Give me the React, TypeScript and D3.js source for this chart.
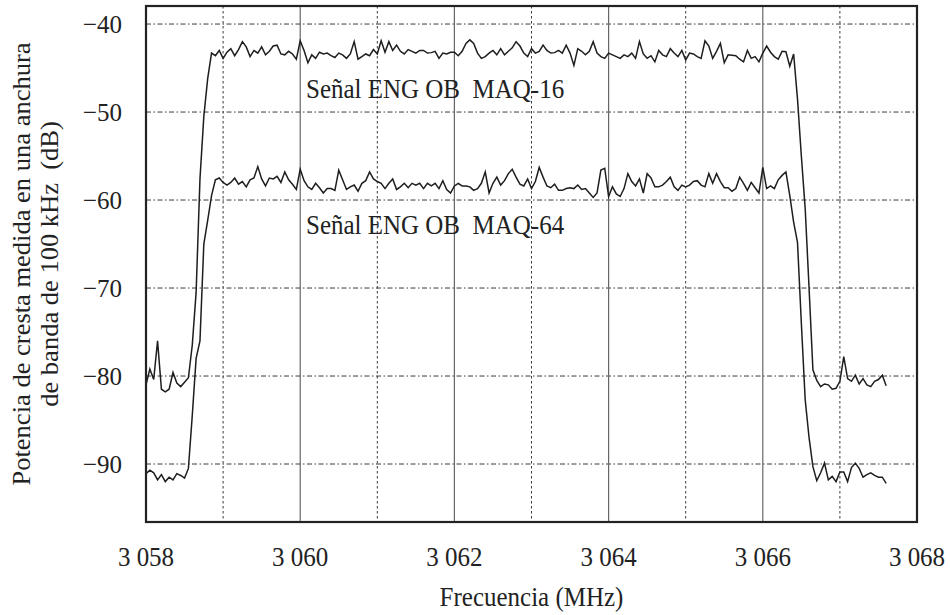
import React from "react";
import * as d3 from "d3";

// Frequency sampling of the traces (MHz)
const freqStart = 3058.0;
const freqStep = 0.05;

// Señal ENG OB MAQ-16 (dB)
const maq16: number[] = [
  -81.0, -79.2, -80.4, -76.0, -81.5, -81.8, -81.5, -79.6, -80.8, -81.2,
  -80.7, -80.2, -76.5, -70.5, -57.6, -50.5, -46.2, -43.3, -43.6, -43.0,
  -43.9, -43.2, -42.8, -43.6, -42.9, -42.0, -42.6, -43.7, -43.0, -43.3,
  -42.6, -43.5, -43.1, -42.5, -42.4, -43.4, -43.5, -43.1, -43.4, -44.0,
  -41.9, -43.0, -44.4, -43.5, -43.9, -43.2, -43.4, -43.3, -43.6, -43.8,
  -43.3, -43.5, -43.9, -43.4, -42.0, -44.0, -43.7, -43.4, -43.6, -42.9,
  -43.4, -41.9, -43.2, -42.0, -43.0, -42.4, -43.1, -43.4, -42.9, -43.1,
  -43.3, -43.0, -43.0, -43.3, -43.25, -43.1, -43.9, -43.3, -43.4, -43.2,
  -43.2, -43.6, -43.1, -42.2, -41.8, -42.2, -43.3, -43.9, -43.7, -43.3,
  -43.0, -43.5, -42.8, -43.5, -43.1, -42.7, -42.0, -42.5, -43.3, -43.7,
  -42.8, -43.3, -43.1, -42.4, -43.0, -43.3, -43.25, -43.0, -43.3, -42.4,
  -43.3, -44.7, -42.8, -43.1, -43.5, -43.1, -42.0, -43.3, -43.7, -43.9,
  -43.3, -43.5, -43.7, -43.9, -43.5, -43.7, -43.3, -43.9, -42.0, -43.4,
  -43.9, -43.6, -44.3, -43.0, -43.5, -43.7, -42.8, -43.3, -43.7, -43.0,
  -44.1, -43.3, -43.4, -43.7, -43.9, -41.9, -42.5, -43.9, -43.1, -42.2,
  -44.4, -43.5, -43.55, -43.6, -44.0, -44.3, -43.0, -43.9, -43.7, -44.3,
  -43.3, -42.5, -43.2, -43.7, -44.0, -43.1, -43.15, -44.8, -43.4, -48.5,
  -55.0, -61.0, -70.0, -79.3, -80.5, -81.2, -80.9, -81.0, -81.5, -81.4,
  -80.6, -77.8, -80.3, -80.6, -79.9, -80.9, -80.3, -81.0, -81.2, -80.6,
  -80.4, -79.9, -81.1,
];

// Señal ENG OB MAQ-64 (dB)
const maq64: number[] = [
  -91.1, -90.7, -91.0, -91.8, -91.2, -92.0, -91.5, -91.8, -91.1, -91.3,
  -91.6, -90.5, -84.5, -78.0, -76.0, -65.0, -62.3, -59.5, -57.7, -57.5,
  -58.0, -58.3, -58.0, -57.5, -58.2, -57.9, -58.5, -57.7, -57.5, -56.2,
  -57.6, -58.4, -57.5, -57.6, -57.3, -58.0, -56.8, -57.7, -58.2, -58.8,
  -56.5, -57.8, -58.5, -58.8, -58.1, -58.6, -59.2, -58.7, -58.7, -58.9,
  -56.6, -57.7, -58.8, -58.5, -58.3, -59.0, -58.1, -57.8, -56.8, -57.6,
  -57.9, -58.1, -58.7, -58.1, -57.6, -58.8, -58.5, -58.1, -58.6, -58.1,
  -58.3, -58.1, -58.7, -58.1, -58.4, -58.1, -58.7, -57.8, -58.8, -59.2,
  -58.4, -58.1, -58.4, -58.4, -58.5, -58.9, -58.7, -58.1, -56.8, -59.2,
  -58.1, -57.4, -58.3, -57.8, -57.0, -56.5, -57.4, -58.2, -58.4, -57.6,
  -58.7, -57.9, -56.3, -57.4, -58.4, -58.6, -58.2, -58.9, -58.9, -58.7,
  -58.6, -58.7, -58.3, -58.8, -58.7, -59.2, -59.7, -59.2, -56.6, -56.4,
  -59.6, -58.5, -59.3, -59.6, -58.7, -57.0, -57.9, -58.4, -57.6, -59.2,
  -57.0, -57.5, -58.5, -58.5, -58.3, -57.9, -57.4, -58.5, -58.9, -58.3,
  -58.5, -58.3, -57.9, -57.8, -58.3, -58.5, -57.0, -58.1, -57.0, -57.9,
  -58.6, -58.6, -59.0, -58.7, -57.4, -58.1, -58.9, -58.0, -58.6, -59.2,
  -56.3, -58.7, -58.4, -58.7, -57.7, -57.2, -56.8, -59.5, -62.5, -64.8,
  -74.0, -82.7, -87.0, -90.3, -91.9, -91.0, -89.9, -91.8, -91.4, -92.0,
  -90.9, -90.9, -92.0, -90.4, -89.9, -90.5, -91.5, -91.2, -91.0, -91.3,
  -91.5, -91.5, -92.2,
];

const xTicks = [3058, 3060, 3062, 3064, 3066, 3068];
const xTickLabels = ["3 058", "3 060", "3 062", "3 064", "3 066", "3 068"];
const xMinorGrid = [3059, 3061, 3063, 3065, 3067];
const xMajorGrid = [3060, 3062, 3064, 3066];
const yTicks = [-40, -50, -60, -70, -80, -90];

const W = 950;
const H = 615;
const left = 146;
const right = 917;
const top = 6;
const bottom = 522;

const FONT = "'Liberation Serif', 'Times New Roman', serif";

const x = d3.scaleLinear().domain([3058, 3068]).range([left, right]);
const y = d3.scaleLinear().domain([-96.59, -37.95]).range([bottom, top]);

const line = d3
  .line<number>()
  .x((_, i) => x(freqStart + i * freqStep))
  .y((d) => y(d));

function T({ x: tx, y: ty, children, anchor = "start", rotate = 0, sx = 1, sy = 1.08, size = 25 }: any) {
  return (
    <text
      transform={`translate(${tx},${ty}) rotate(${rotate}) scale(${sx},${sy})`}
      textAnchor={anchor}
      fontFamily={FONT}
      fontSize={size}
      fill="#222"
      style={{ whiteSpace: "pre" }}
    >
      {children}
    </text>
  );
}

export default function App() {
  return (
    <svg
      width={W}
      height={H}
      viewBox={`0 0 ${W} ${H}`}
      style={{ position: "absolute", left: 0, top: 0, background: "#fff" }}
    >
      <rect x={0} y={0} width={W} height={H} fill="#fff" />
      {yTicks.map((t) => (
        <line
          key={"h" + t}
          x1={left}
          x2={right}
          y1={y(t)}
          y2={y(t)}
          stroke="#3a3a3a"
          strokeWidth={1}
          strokeDasharray="5,2.5,1.5,2.5"
        />
      ))}
      {xMinorGrid.map((t) => (
        <line
          key={"vm" + t}
          x1={x(t)}
          x2={x(t)}
          y1={top}
          y2={bottom}
          stroke="#3a3a3a"
          strokeWidth={1}
          strokeDasharray="2.5,2.5"
        />
      ))}
      {xMajorGrid.map((t) => (
        <line
          key={"vM" + t}
          x1={x(t)}
          x2={x(t)}
          y1={top}
          y2={bottom}
          stroke="#666"
          strokeWidth={1.2}
        />
      ))}
      <path d={line(maq16) || ""} fill="none" stroke="#1e1e1e" strokeWidth={1.5} strokeLinejoin="miter" />
      <path d={line(maq64) || ""} fill="none" stroke="#1e1e1e" strokeWidth={1.5} strokeLinejoin="miter" />
      <rect
        x={left}
        y={top}
        width={right - left}
        height={bottom - top}
        fill="none"
        stroke="#222"
        strokeWidth={2.2}
      />
      {yTicks.map((t) => (
        <T key={"yl" + t} x={122} y={y(t) + 8.5} anchor="end" sy={1.03}>
          {"\u2212" + Math.abs(t)}
        </T>
      ))}
      {xTicks.map((t, i) => (
        <T key={"xl" + t} x={x(t)} y={566} anchor="middle">
          {xTickLabels[i]}
        </T>
      ))}
      <T x={(left + right) / 2} y={606} anchor="middle">
        Frecuencia (MHz)
      </T>
      <T x={30} y={264} anchor="middle" rotate={-90} sx={1.04} sy={1} size={25.5}>
        Potencia de cresta medida en una anchura
      </T>
      <T x={58} y={264} anchor="middle" rotate={-90} sx={1.04} sy={1} size={25.5}>
        {"de banda de 100 kHz  (dB)"}
      </T>
      <T x={306} y={98}>
        {"Señal ENG OB  MAQ-16"}
      </T>
      <T x={306} y={234}>
        {"Señal ENG OB  MAQ-64"}
      </T>
    </svg>
  );
}
